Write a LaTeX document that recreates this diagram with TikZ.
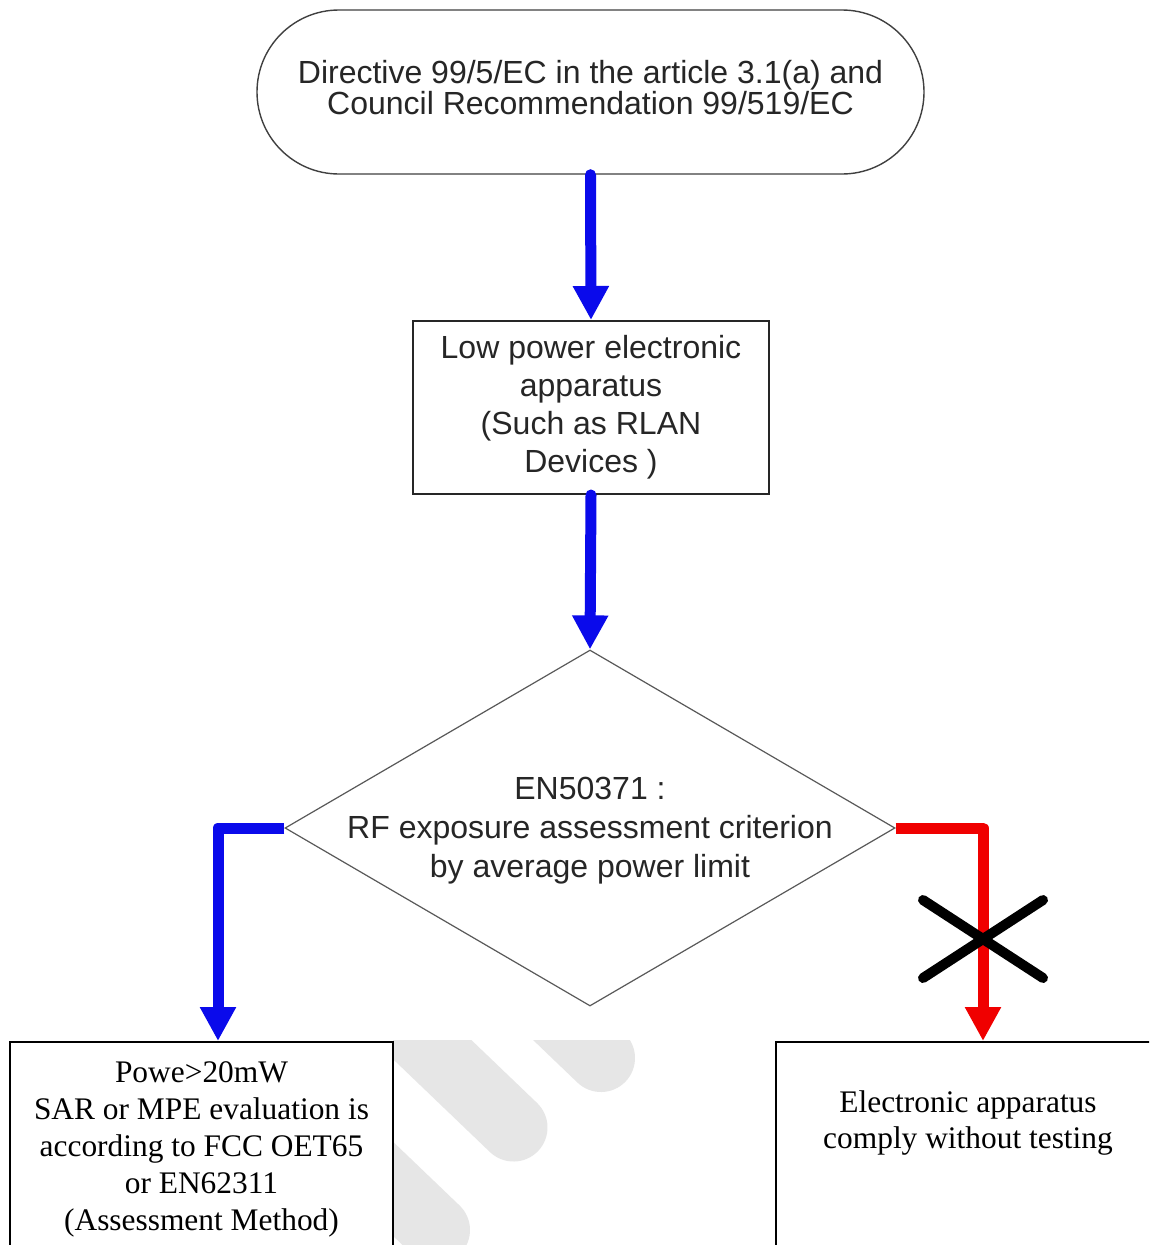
\documentclass[tikz,border=0pt]{standalone}
\usepackage{fontspec}
\setmainfont{Liberation Serif}
\newfontfamily\arialfont{Liberation Sans}
\usetikzlibrary{arrows.meta,shapes.misc,shapes.geometric}
\definecolor{flowblue}{RGB}{10,10,235}
\definecolor{flowred}{RGB}{240,0,0}
\definecolor{wmgray}{RGB}{230,230,230}
\tikzset{
  term/.style={rounded rectangle, draw=black!75, line width=1.4pt, minimum width=667pt, minimum height=164pt, inner sep=0pt, align=center, text=black!85, font=\arialfont\fontsize{32}{31}\selectfont},
  procbox/.style={rectangle, draw=black!85, line width=2pt, minimum width=356pt, minimum height=173pt, inner sep=0pt, align=center, text=black!85, font=\arialfont\fontsize{32}{38}\selectfont},
  decision/.style={diamond, draw=black!65, line width=1.2pt, minimum width=610pt, minimum height=356pt, inner sep=0pt},
  dectext/.style={align=center, inner sep=0pt, text=black!85, font=\arialfont\fontsize{32}{39}\selectfont},
  outbox/.style={rectangle, draw=black, fill=white, line width=2pt, minimum width=383pt, minimum height=208pt, inner sep=0pt, align=center, font=\fontsize{31.4}{37}\selectfont},
  outtext/.style={align=center, inner sep=0pt, font=\fontsize{31.4}{36}\selectfont},
  flow/.style={line width=11pt, -{Triangle[width=34pt,length=34pt]}},
  wmband/.style={line width=68pt, line cap=round, draw=wmgray},
}
\begin{document}
\begin{tikzpicture}[x=1pt,y=-1pt]
\useasboundingbox (0,0) rectangle (1149,1245);
\clip (0,0) rectangle (1149,1245);
\fill[white] (0,0) rectangle (1149,1245);
% watermark
\begin{scope}
  \clip (393,1040) rectangle (776,1245);
  \draw[wmband] (369.5,989.5) -- (513.5,1127.5);
  \draw[wmband] (292,1092) -- (436,1230);
  \draw[wmband] (457,920) -- (601,1058);
\end{scope}
% nodes
\node[term] (dir) at (590.5,92) {Directive 99/5/EC in the article 3.1(a) and\\Council Recommendation 99/519/EC\rule[-9pt]{0pt}{9pt}};
\node[procbox] (lp) at (591,407.5) {Low power electronic\\apparatus\\(Such as RLAN\\Devices )};
\node[decision] (crit) at (590,828) {};
\node[dectext, yshift=-2.5pt] (crittext) at (crit.center) {EN50371 :\\RF exposure assessment criterion\\by average power limit};
\node[outbox] (sar) at (201.5,1146) {\rule{0pt}{27pt}Powe>20mW\\SAR or MPE evaluation is\\according to FCC OET65\\or EN62311\\(Assessment Method)};
\node[outbox] (comply) at (967.5,1146) {};
\node[outtext] (complytext) at (968,1123) {Electronic apparatus\\comply without testing};
\coordinate (ltip) at (218,1041);
\coordinate (rtip) at (983,1041);
% connectors
\draw[flow, flowblue, line cap=round] (dir.south) -- (lp.north);
\draw[flow, flowblue, line cap=round] (lp.south) -- (crit.north);
\draw[flow, flowblue, line join=round] (crit.west) -| (ltip);
\draw[flow, flowred, line join=round] (crit.east) -| (rtip);
% cross mark
\draw[line width=10pt, line cap=round] (923,900) -- (1043,978);
\draw[line width=10pt, line cap=round] (923,978) -- (1043,900);
\end{tikzpicture}
\end{document}
